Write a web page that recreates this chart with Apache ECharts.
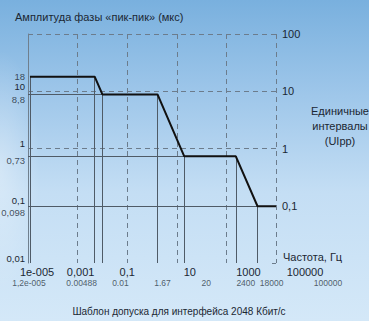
<!DOCTYPE html>
<html>
<head>
<meta charset="utf-8">
<script src="https://cdn.jsdelivr.net/npm/echarts@6/dist/echarts.min.js"></script>
<style>
html, body { margin: 0; padding: 0; }
body {
  width: 369px; height: 321px; overflow: hidden;
  background:
    radial-gradient(ellipse 40px 120px at 0px 170px, rgba(255,255,255,0.35), rgba(255,255,255,0)),
    linear-gradient(to bottom, #79b0de 0%, #9fc7ea 30%, #c4def4 60%, #d4e8f8 100%);
}
#chart { width: 369px; height: 321px; }
</style>
</head>
<body>
<div id="chart"></div>
<script>
// маска допуска, 2048 кбит/с
var freq = [1.2e-5, 0.00488, 0.01, 1.67, 20, 2400, 18000, 100000];
var amp = [18, 18, 8.8, 8.8, 0.73, 0.73, 0.098, 0.098];
var freqLabels = ['1,2e-005', '0.00488', '0.01', '1.67', '20', '2400', '18000', '100000'];
var levels = [18, 8.8, 0.73, 0.098];
var levelLabels = ['18', '8,8', '0,73', '0,098'];
var levelEnds = [1.2e-5, 0.01, 20, 18000];
var xTickLabels = ['1e-005', '0,001', '0,1', '10', '1000', '100000'];
var yTickLeft = ['0,01', '0,1', '1', '10', ''];
var yTickRight = ['', '0,1', '1', '10', '100'];

var font = 'Liberation Sans';
var txt = '#1b2733';

// сдвиги подписей как на картинке
var xShift = [9, 3, 0, 13, 22, 29];
var rowShift = [-1, -13, 18, 5, 22, 10, 14, 52];
var levelShift = [0, 5, 4, 6];

var rich = {};
xTickLabels.forEach(function (t, i) {
  rich['o' + i] = { fontSize: 11, fontFamily: font, color: txt, padding: [0, 0, 0, xShift[i] * 2] };
});

var curve = freq.map(function (f, i) { return [f, amp[i]]; });

var guides = [];
for (var i = 0; i < freq.length - 1; i++) {
  guides.push({ coords: [[freq[i], amp[i]], [freq[i], 0.01]] });
}
for (var j = 1; j < levels.length; j++) {
  guides.push({ coords: [[1e-5, levels[j]], [levelEnds[j], levels[j]]] });
}

var levelPts = levels.map(function (v, j) {
  return {
    value: [1e-5, v],
    label: { formatter: levelLabels[j], offset: [0, levelShift[j]] }
  };
});

var rowPts = freq.map(function (f, i) {
  return {
    value: [f, 0.01],
    label: { formatter: freqLabels[i], offset: [rowShift[i], 0] }
  };
});

var dashed = { color: '#6c7c8c', width: 1, type: [5, 4] };

var chart = echarts.init(document.getElementById('chart'), null, { renderer: 'svg' });
var option = {
  backgroundColor: 'transparent',
  animation: false,
  title: [{
    text: 'Амплитуда фазы «пик-пик» (мкс)',
    left: 10, top: 6,
    textStyle: { fontSize: 11, fontWeight: 'normal', fontFamily: font, color: txt }
  }, {
    text: 'Шаблон допуска для интерфейса 2048 Кбит/с',
    left: 174, top: 301, textAlign: 'center',
    textStyle: { fontSize: 10, fontWeight: 'normal', fontFamily: font, color: txt }
  }, {
    text: 'Единичные\nинтервалы\n(UIpp)',
    left: 335, top: 98, textAlign: 'center',
    textStyle: { fontSize: 11, fontWeight: 'normal', fontFamily: font, color: txt, lineHeight: 15 }
  }, {
    text: 'Частота, Гц',
    left: 278, top: 246,
    textStyle: { fontSize: 11, fontWeight: 'normal', fontFamily: font, color: txt }
  }],
  grid: { left: 28, right: 93, top: 34, bottom: 58 },
  xAxis: {
    type: 'log', logBase: 10, min: 1e-5, max: 1e5, interval: 2,
    axisLine: { show: false },
    axisTick: { show: false },
    axisLabel: {
      margin: 3,
      formatter: function (v) {
        var k = Math.round((Math.round(Math.log10(v)) + 5) / 2);
        return '{o' + k + '|' + xTickLabels[k] + '}';
      },
      rich: rich
    },
    splitLine: { show: true, showMinLine: false, lineStyle: dashed }
  },
  yAxis: [{
    type: 'log', logBase: 10, min: 0.01, max: 100, interval: 1,
    axisLine: { show: true, lineStyle: { color: '#6f7f8e', width: 1 } },
    axisTick: { show: false },
    axisLabel: {
      margin: 3, fontSize: 9.5, fontFamily: font, color: txt, verticalAlign: 'bottom',
      formatter: function (v) { return yTickLeft[Math.round(Math.log10(v)) + 2]; }
    },
    splitLine: { show: true, showMinLine: false, lineStyle: dashed }
  }, {
    type: 'log', logBase: 10, min: 0.01, max: 100, interval: 1, position: 'right',
    axisLine: { show: false },
    axisTick: { show: true, inside: true, length: 4, lineStyle: { color: '#6c7c8c' } },
    axisLabel: {
      margin: 6, fontSize: 11, fontFamily: font, color: txt,
      formatter: function (v) { return yTickRight[Math.round(Math.log10(v)) + 2]; }
    },
    splitLine: { show: false }
  }],
  series: [{
    type: 'lines',
    coordinateSystem: 'cartesian2d',
    lineStyle: { color: '#4f5b67', width: 1, opacity: 1 },
    data: guides,
    z: 2
  }, {
    type: 'line',
    data: curve,
    symbol: 'none',
    lineStyle: { color: '#111111', width: 2 },
    z: 3
  }, {
    type: 'scatter',
    data: levelPts,
    symbolSize: 0,
    clip: false,
    label: { show: true, position: 'left', distance: 3, fontSize: 9.5, fontFamily: font, color: txt },
    z: 4
  }, {
    type: 'scatter',
    data: rowPts,
    symbolSize: 0,
    clip: false,
    label: { show: true, position: 'bottom', distance: 15, fontSize: 8.5, fontFamily: font, color: '#2c3844' },
    z: 4
  }]
};
chart.setOption(option);
</script>
</body>
</html>
